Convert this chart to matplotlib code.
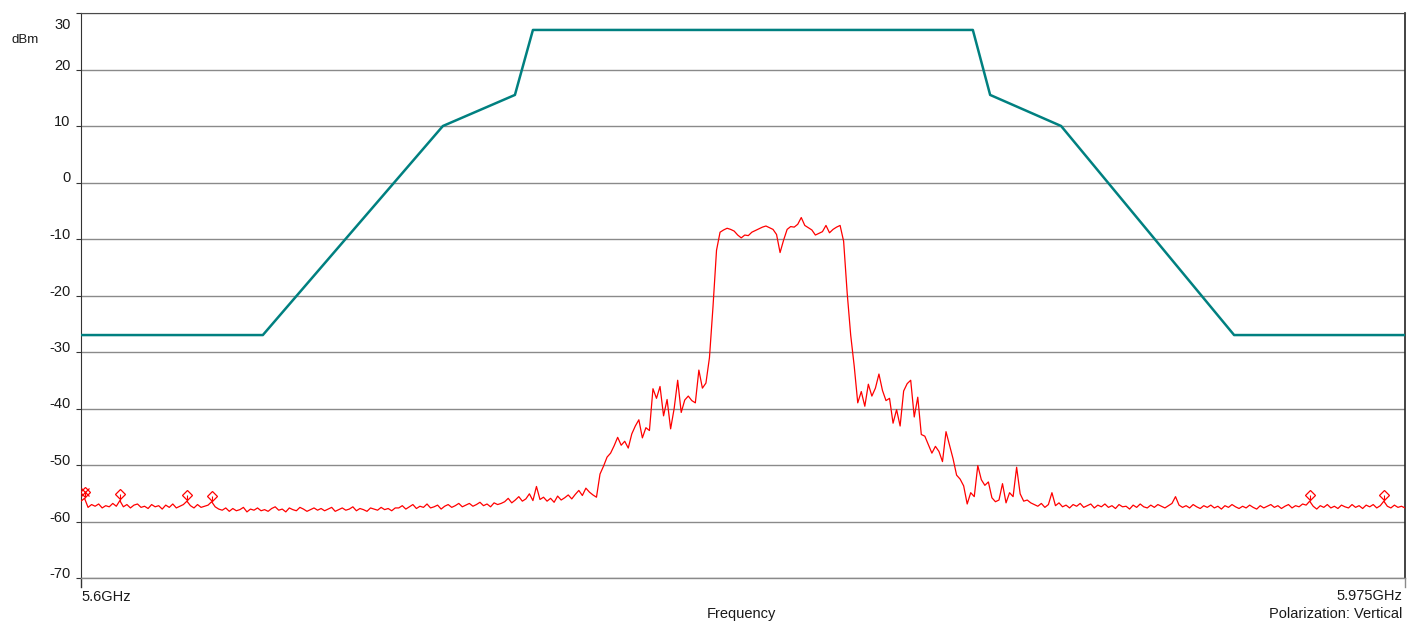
import numpy as np
import matplotlib
matplotlib.use("Agg")
import matplotlib.pyplot as plt

plt.rcParams['font.family'] = ['Liberation Sans', 'DejaVu Sans']

# ---------------- data ----------------
# spectral mask (GHz, dBm)
mask_freqs = [5.600, 5.6515, 5.7025, 5.7229, 5.728, 5.8526, 5.8575, 5.8776, 5.9266, 5.975]
mask_levels = [-27, -27, 10, 15.5, 27, 27, 15.5, 10, -27, -27]

# measured trace, 1 MHz steps, split in segments (start frequency in GHz)
floor_left_start = 5.600
floor_left = [
    -56.4, -55.9,
    -57.5, -57.0, -57.3, -56.9, -57.6, -57.2, -57.4, -56.8, -57.3,
    -56.3,
    -57.4, -57.0, -57.6, -57.1, -56.9, -57.5, -57.3, -57.7, -57.0, -57.4,
    -57.2, -57.8, -57.1, -57.5, -56.9, -57.6, -57.3, -57.0,
    -56.4,
    -57.2, -57.6, -57.0, -57.5, -57.3, -57.1,
    -56.5,
    -57.4, -57.8, -58.0, -57.6, -58.2, -57.7, -58.1, -57.9, -57.5, -58.3,
    -57.8, -58.0, -57.6, -58.1, -57.9, -58.2, -57.7, -57.4, -58.0, -57.8,
    -58.3, -57.6, -57.9, -58.1, -57.5, -57.8, -58.2, -57.9, -57.6, -58.0,
    -57.7, -58.1, -57.8, -57.5, -58.2, -57.9, -57.6, -58.0, -57.8, -57.4,
    -58.1, -57.7, -57.9, -58.2, -57.6, -57.8, -58.0, -57.5, -57.9, -57.7,
    -58.1, -57.6,
    -57.6, -57.2, -57.8, -57.4, -57.0, -57.7, -57.3, -57.5, -56.9, -57.6,
    -57.4, -57.1, -57.8, -57.3, -57.0, -57.5, -57.2, -56.8, -57.4, -57.1,
    -56.8, -57.3, -57.0, -56.6, -57.2, -56.9, -57.4, -56.7, -57.0, -56.8,
    -56.5, -55.9, -56.7, -56.2, -55.6, -56.4, -56.0, -55.1, -56.3, -53.8,
    -56.1, -55.7, -56.4, -55.9, -56.6, -55.5, -56.2, -55.8, -55.3, -56.0,
    -55.2, -54.5, -55.4, -54.1, -54.8, -55.3,
]

skirt_left_start = 5.746
skirt_left = [
    -55.7, -51.6, -50.2, -48.6, -47.9, -46.6, -45.1, -46.5, -45.8, -47.0,
    -44.5, -43.1, -42.0, -45.2, -43.4, -43.9, -36.5, -38.2, -36.1, -41.3,
    -38.4, -43.6, -40.0, -35.0, -40.7, -38.5, -37.8, -38.6, -39.0, -33.2,
    -36.4, -35.5, -31.0, -22.0,
]

passband_start = 5.780
passband = [
    -12.0, -8.8, -8.4, -8.1, -8.3, -8.6, -9.3, -9.8, -9.3, -9.4,
    -8.8, -8.5, -8.2, -7.9, -7.7, -8.0, -8.3, -9.2, -12.4, -10.2,
    -8.3, -7.8, -7.9, -7.4, -6.2, -7.6, -8.0, -8.4, -9.3, -9.0,
    -8.7, -7.6, -8.9, -8.3, -7.9, -7.6, -10.4,
]

skirt_right_start = 5.817
skirt_right = [
    -19.5, -27.0, -32.5, -39.0, -37.0, -39.6, -35.7, -37.8, -36.4, -33.9,
    -36.8, -38.6, -38.2, -42.6, -40.2, -43.1, -36.9, -35.6, -35.0, -41.5,
    -38.0, -44.6, -44.9, -46.4, -47.9, -46.7, -47.6, -49.4, -44.1, -46.5,
    -48.9, -51.8, -52.5, -53.7, -56.9, -54.9, -55.6, -50.1, -52.6, -53.6,
    -53.0, -55.8, -56.5, -56.2, -53.3, -56.7, -54.9, -55.6, -50.4, -55.1,
    -56.4, -56.2, -56.7, -57.0,
]

floor_right_start = 5.871
floor_right = [
    -57.3, -56.8, -57.5, -57.0, -54.9, -57.2, -56.7, -57.4, -57.1, -57.6,
    -57.0, -57.3, -56.8, -57.5, -57.2, -56.9, -57.6, -57.1, -57.4, -56.9,
    -57.5, -57.2, -57.7, -57.0, -57.4, -57.3, -57.8, -57.1, -57.5, -56.9,
    -57.4, -57.6, -57.1, -57.5, -57.0, -57.3, -57.6, -57.2, -56.8, -55.6,
    -57.1, -57.5, -57.2, -57.6, -57.0, -57.4, -57.7, -57.2, -57.5, -57.1,
    -57.6, -57.3, -57.8, -57.2, -57.5, -57.0, -57.4, -57.7, -57.3, -57.6,
    -57.1, -57.5, -57.8, -57.2, -57.6, -57.3, -57.0, -57.5, -57.2, -57.7,
    -57.3, -57.0, -57.6, -57.2, -57.4, -56.9, -57.1, -56.4, -57.3, -57.8,
    -57.2, -57.5, -57.0, -57.6, -57.3, -57.7, -57.1, -57.4, -57.6, -57.0,
    -57.5, -57.2, -57.7, -57.1, -57.4, -57.0, -57.6, -57.2, -56.4, -57.3,
    -57.6, -57.1, -57.5, -57.3, -57.6,
]

# peak markers (GHz, dBm)
marker_freqs = [5.601, 5.611, 5.630, 5.637, 5.948, 5.969]
marker_levels = [-55.9, -56.3, -56.4, -56.5, -56.4, -56.4]

y_ticks = [-70, -60, -50, -40, -30, -20, -10, 0, 10, 20, 30]
x_min, x_max = 5.600, 5.975
x_min_label, x_max_label = "5.6GHz", "5.975GHz"

# ---------------- build trace ----------------
segments = [(floor_left_start, floor_left), (skirt_left_start, skirt_left),
            (passband_start, passband), (skirt_right_start, skirt_right),
            (floor_right_start, floor_right)]
trace_f = np.concatenate([s + 0.001 * np.arange(len(v)) for s, v in segments])
trace_v = np.concatenate([np.asarray(v, float) for _, v in segments])

# ---------------- figure ----------------
W, H = 1418, 624
FS = 10.5
TXT = '#1a1a1a'
fig = plt.figure(figsize=(W / 100, H / 100), dpi=100)
ax = fig.add_axes([81 / W, 1 - 578 / H, (1405 - 81) / W, (578 - 13) / H])

ax.set_xlim(x_min, x_max)
ax.set_ylim(-70, 30)

ax.grid(axis='y', color='#8a8a8a', linewidth=1.0)
ax.set_axisbelow(True)

ax.plot(mask_freqs, mask_levels, color='#008080', linewidth=1.8, zorder=3)
ax.plot(trace_f, trace_v, color='#ff0000', linewidth=0.9, zorder=4)

# peak markers
mk_y = [v + 1.1 for v in marker_levels]
ax.vlines(marker_freqs, marker_levels, mk_y, color='#ff0000', linewidth=0.8, zorder=5)
ax.plot(marker_freqs, mk_y, linestyle='none', marker='D', markersize=5.5,
        markerfacecolor='none', markeredgecolor='#ff0000', markeredgewidth=0.9, zorder=6)
ax.plot(marker_freqs[:1], mk_y[:1], linestyle='none', marker='x', markersize=6,
        markeredgecolor='#ff0000', markeredgewidth=0.9, zorder=6)

# spines
ax.spines['top'].set_color('#4a4a4a')
ax.spines['right'].set_color('#222222')
ax.spines['right'].set_linewidth(1.2)
ax.spines['left'].set_color('#333333')
ax.spines['bottom'].set_color('#8a8a8a')
ax.spines['bottom'].set_linewidth(1.0)

# short extensions below the plot on both sides
ext = 9 / (578 - 13)
ax.plot([0, 0], [0, -ext], transform=ax.transAxes, color='#333333', linewidth=1.0, clip_on=False)
ax.plot([1, 1], [0, -ext], transform=ax.transAxes, color='#8a8a8a', linewidth=1.0, clip_on=False)

# ticks
ax.set_xticks([])
ax.set_yticks(y_ticks)
ax.set_yticklabels([str(t) if t != 30 else '' for t in y_ticks], fontsize=FS, color=TXT)
ax.tick_params(axis='y', length=3.5, width=0.8, color='#333333', pad=4)
for lab in ax.get_yticklabels():
    lab.set_verticalalignment('baseline')
ax.annotate('30', xy=(0, 30), xycoords=('axes fraction', 'data'), xytext=(-7.3, -3.5),
            textcoords='offset points', ha='right', va='top', fontsize=FS, color=TXT)

# texts
fig.text(25 / W, 1 - 40 / H, 'dBm', ha='center', va='center', fontsize=9.5, color=TXT)
fig.text(81 / W, 1 - 597 / H, x_min_label, ha='left', va='center', fontsize=FS, color=TXT)
fig.text(1402 / W, 1 - 596 / H, x_max_label, ha='right', va='center', fontsize=FS, color=TXT)
fig.text(741 / W, 1 - 614 / H, 'Frequency', ha='center', va='center', fontsize=FS, color=TXT)
fig.text(1402 / W, 1 - 614 / H, 'Polarization: Vertical', ha='right', va='center', fontsize=FS, color=TXT)

fig.savefig('out.png', dpi=100, facecolor='white')
